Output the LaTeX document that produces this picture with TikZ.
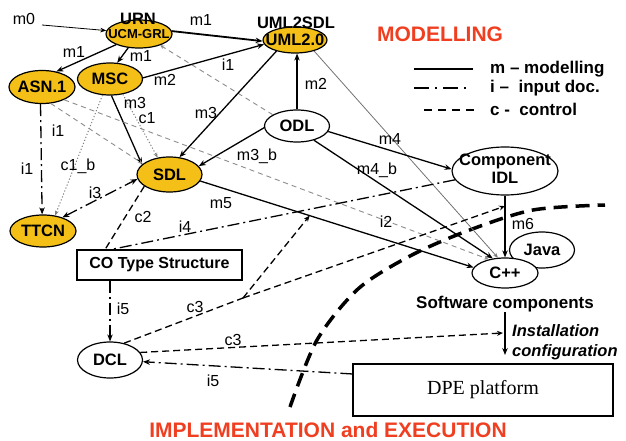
\documentclass[tikz,border=0pt]{standalone}
\usepackage{fontspec}
\setmainfont{Liberation Sans}
\newfontfamily\dpefont{Liberation Serif}
\usetikzlibrary{arrows.meta,calc,shapes.geometric}
\definecolor{gold}{RGB}{244,192,24}
\definecolor{redtxt}{RGB}{240,62,32}
\newcommand\ctext[1]{\makebox[0pt][c]{#1}}
\begin{document}
\begin{tikzpicture}[x=1pt,y=-1pt,
  ell/.style={ellipse, draw, line width=1.2pt, inner sep=0pt, font=\bfseries\fontsize{16.5}{19}\selectfont},
  yel/.style={ell, fill=gold},
  wht/.style={ell, fill=white},
  box/.style={draw, line width=1.2pt, fill=white, inner sep=0pt},
  lbl/.style={inner sep=0pt, font=\fontsize{16}{18}\selectfont, text height=11.5pt, text depth=0pt},
  blbl/.style={inner sep=0pt, font=\bfseries\fontsize{16.5}{19}\selectfont},
  tip/.style={-{Stealth[length=7pt,width=5.5pt]}},
  mline/.style={line width=1.3pt, tip},
  iline/.style={line width=1.3pt, dash pattern=on 12pt off 4pt on 2pt off 4pt},
  cline/.style={line width=1.3pt, dash pattern=on 7pt off 4pt},
  gdash/.style={draw=black!45, line width=0.9pt, dash pattern=on 5pt off 4pt},
  gdot/.style={draw=black!50, line width=1pt, dash pattern=on 1.2pt off 2pt},
  boundary/.style={line width=3.5pt, dash pattern=on 14pt off 8pt}
]
\useasboundingbox (0,0) rectangle (626,441);

% ---- nodes
\node[yel, minimum width=66pt, minimum height=28pt, font=\bfseries\fontsize{13}{15}\selectfont] (urn) at (139,34) {\ctext{UCM-GRL}};
\node[blbl] (urnT) at (138,19) {URN};
\node[yel, minimum width=64pt, minimum height=26pt] (uml) at (295,40) {\ctext{UML2.0}};
\node[blbl] (umlT) at (296,23) {UML2SDL};
\node[yel, minimum width=66pt, minimum height=33pt] (asn) at (42,87) {\ctext{ASN.1}};
\node[yel, minimum width=65pt, minimum height=32pt] (msc) at (110,79) {\ctext{MSC}};
\node[wht, minimum width=65pt, minimum height=32pt] (odl) at (297,126) {\ctext{ODL}};
\node[yel, minimum width=65pt, minimum height=35pt] (sdl) at (169.5,174.5) {\ctext{SDL}};
\node[yel, minimum width=66pt, minimum height=32pt] (ttcn) at (43,231) {\ctext{TTCN}};
\node[box, minimum width=165pt, minimum height=30pt, font=\bfseries\fontsize{16}{18}\selectfont] (co) at (159.5,265) {CO Type Structure};
\node[wht, minimum width=106pt, minimum height=48pt] (idl) at (505,171) {\ctext{\raisebox{-4pt}[0pt][0pt]{\begin{tabular}{@{}c@{}}Component\\[-1pt]IDL\end{tabular}}}};
\node[wht, minimum width=65pt, minimum height=36pt] (java) at (542,250) {\ctext{Java}};
\node[wht, minimum width=66pt, minimum height=30pt] (cpp) at (505,273) {\ctext{C++}};
\node[wht, minimum width=65pt, minimum height=36pt] (dcl) at (110,360) {\ctext{DCL}};
\node[box, minimum width=260pt, minimum height=52pt, font=\dpefont\fontsize{20}{22}\selectfont] (dpe) at (483,390) {DPE platform};
\node[inner sep=0pt, font=\bfseries\fontsize{17}{19}\selectfont] (sw) at (505,304) {Software components};
\node[inner sep=0pt, anchor=west, align=left, font=\bfseries\itshape\fontsize{16.5}{20}\selectfont] (inst) at (512,342) {Installation\\configuration};
\node[inner sep=0pt, text=redtxt, font=\bfseries\fontsize{21}{24}\selectfont] (model) at (440,34) {MODELLING};
\node[inner sep=0pt, text=redtxt, font=\bfseries\fontsize{21}{24}\selectfont] (impl) at (328,430) {IMPLEMENTATION and EXECUTION};

% ---- legend
\coordinate (lg1a) at (414,69); \coordinate (lg1b) at (473,69);
\coordinate (lg2a) at (414,88); \coordinate (lg2b) at (470,88);
\coordinate (lg3a) at (424,110); \coordinate (lg3b) at (474,110);
\draw[line width=1.5pt] (lg1a) -- (lg1b);
\draw[line width=1.5pt, dash pattern=on 15pt off 6pt on 2pt off 6pt] (lg2a) -- (lg2b);
\draw[line width=1.5pt, dash pattern=on 8pt off 6pt] (lg3a) -- (lg3b);
\node[anchor=west, inner sep=0pt, font=\bfseries\fontsize{17}{19}\selectfont] (lgt1) at (490,69) {m -- modelling};
\node[anchor=west, inner sep=0pt, font=\bfseries\fontsize{17}{19}\selectfont] (lgt2) at (490,88) {i --\ \ input doc.};
\node[anchor=west, inner sep=0pt, font=\bfseries\fontsize{17}{19}\selectfont] (lgt3) at (490,109) {c -\ \ control};

% ---- helper coordinates
\coordinate (m0s) at (42,25);
\coordinate (j) at (243,298);
\coordinate (m5pt) at ($(sdl.-12)!0.4!(cpp.170)$);
\coordinate (m6pt) at ($(idl.south)!0.17!(cpp.north)$);
\coordinate (c3end) at (503,333);
\coordinate (swend) at (505,355);

% ---- boundary
\draw[boundary] plot[smooth] coordinates {(290,407) (317,340) (358,289) (410,256) (467,231) (533,210) (605,205)};

% ---- connectors
\draw[line width=0.8pt, -{Stealth[length=6pt,width=4.5pt]}] (m0s) -- (urn.174);
\draw[line width=1.8pt, tip] (urn.5) -- (uml.182);
\draw[mline] (urn.205) -- (asn.47);
\draw[mline] (urn.232) -- (msc.66);
\draw[mline] (msc.2) -- (uml.188);
\draw[gdash, -{Stealth[length=4pt,width=4pt]}] (odl.155) -- (urn.-28);
\draw[mline] (odl.north) -- (odl.north |- uml.south);
\draw[mline] (uml.211) -- (sdl.60);
\draw[mline] (odl.183) -- (sdl.16);
\draw[mline] (msc.-85) -- (sdl.160);
\draw[gdot, -{Stealth[length=5pt,width=4pt]}] (msc.-50) -- (sdl.125);
\draw[gdot, -{Stealth[length=5pt,width=4pt]}] (msc.245) -- (ttcn.52);
\draw[iline, tip] (asn.-95) -- (ttcn.93);
\draw[gdash, -{Stealth[length=5pt,width=4pt]}] (asn.-62) -- (sdl.158);
\draw[gdash, -{Stealth[length=5pt,width=4pt]}] (asn.-30) -- (cpp.140);
\draw[draw=black!55, line width=0.8pt, -{Stealth[length=5pt,width=4pt]}] (uml.-30) -- (cpp.115);
\draw[mline] (odl.-10) -- (idl.178);
\draw[mline] (odl.-40) -- (cpp.130);
\draw[mline] (sdl.-12) -- (cpp.170);
\draw[mline] (idl.south) -- (cpp.north);
\draw[iline] (idl.190) -- (co.162);
\draw[iline, {Stealth[length=7pt,width=5.5pt]}-{Stealth[length=7pt,width=5.5pt]}] (ttcn.35) -- (sdl.188);
\draw[cline] (sdl.205) -- (co.164);
\draw[iline, tip] (dcl.north |- co.south) -- (dcl.north);
\draw[cline] (dcl.50) -- (j);
\draw[cline, -{Stealth[length=6pt,width=5pt]}] (j) -- (m5pt);
\draw[cline, -{Stealth[length=6pt,width=5pt]}] (j) -- (m6pt);
\draw[cline, -{Stealth[length=6pt,width=5pt]}] (dcl.14) -- (c3end);
\draw[iline, tip] (dpe.173) -- (dcl.-3);
\draw[mline] (sw.south) -- (swend);

% ---- connector labels
\node[lbl] (l-m0) at (24,19) {m0};
\node[lbl] (l-m1a) at (201,20) {m1};
\node[lbl] (l-m1b) at (74,52) {m1};
\node[lbl] (l-m1c) at (141,56) {m1};
\node[lbl] (l-m2a) at (165,80) {m2};
\node[lbl] (l-i1a) at (228,65) {i1};
\node[lbl] (l-m3a) at (206,113) {m3};
\node[lbl] (l-m3b) at (135,103) {m3};
\node[lbl] (l-c1) at (147,118) {c1};
\node[lbl] (l-i1b) at (58,131) {i1};
\node[lbl] (l-m2b) at (316,84) {m2};
\node[lbl] (l-m3c) at (257,155) {m3\_b};
\node[lbl] (l-i1c) at (27,169) {i1};
\node[lbl] (l-c1b) at (78,165) {c1\_b};
\node[lbl] (l-i3) at (95,193) {i3};
\node[lbl] (l-m5) at (221,203) {m5};
\node[lbl] (l-c2) at (143,217) {c2};
\node[lbl] (l-i4) at (185,227) {i4};
\node[lbl] (l-m4) at (390,139) {m4};
\node[lbl] (l-m4b) at (377,169) {m4\_b};
\node[lbl] (l-i2) at (386,222) {i2};
\node[lbl] (l-m6) at (523,224) {m6};
\node[lbl] (l-i5a) at (123,309) {i5};
\node[lbl] (l-c3a) at (195,307) {c3};
\node[lbl] (l-c3b) at (233,340) {c3};
\node[lbl] (l-i5b) at (213,381) {i5};
\end{tikzpicture}
\end{document}
